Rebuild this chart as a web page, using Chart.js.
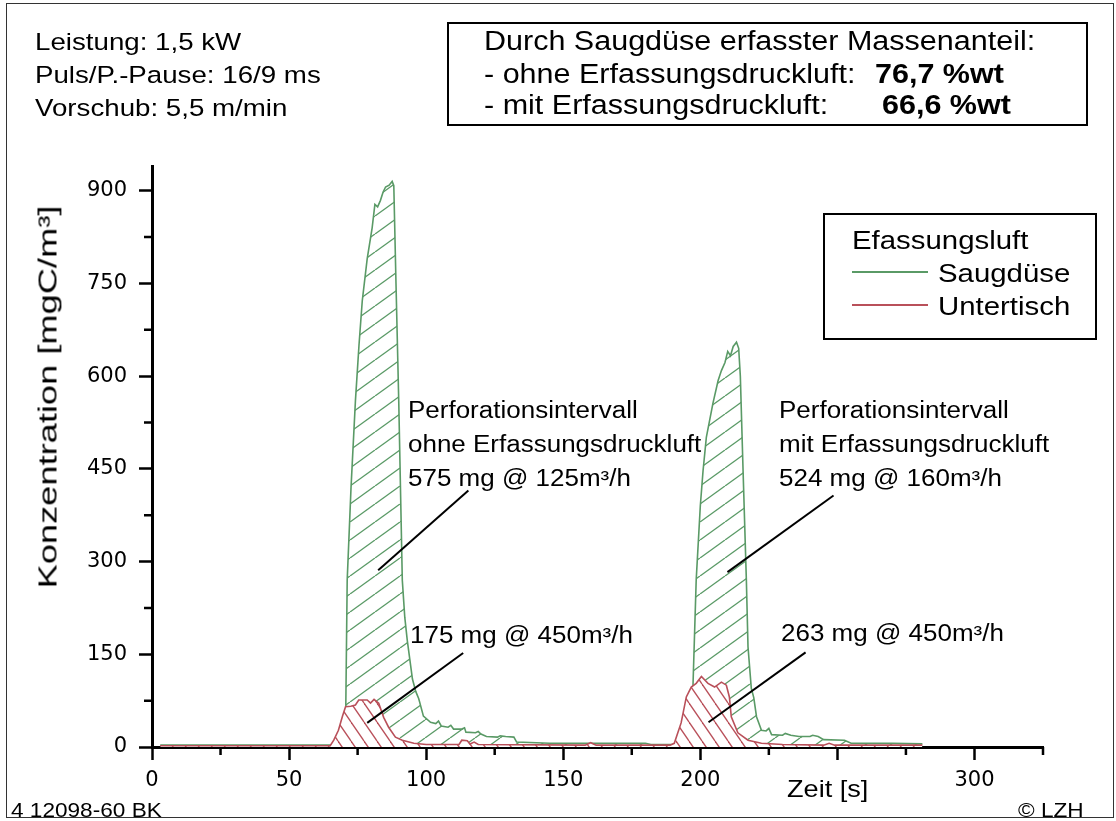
<!DOCTYPE html>
<html>
<head>
<meta charset="utf-8">
<script src="https://cdn.jsdelivr.net/npm/chart.js@4.4.1/dist/chart.umd.min.js"></script>
<style>
  body { margin: 0; background: #fff; }
  #wrap { position: relative; width: 1116px; height: 821px; overflow: hidden; font-family: "Liberation Sans", Arial, sans-serif; color: #000; }
  #chart { position: absolute; left: 0; top: 0; }
  .t { position: absolute; white-space: nowrap; line-height: 1; transform: scaleX(1.13); transform-origin: 0 0; }
  .box { position: absolute; border: 2px solid #000; box-sizing: border-box; }
  .frame { position: absolute; left: 6px; top: 3px; width: 1108px; height: 815px; border: 1.5px solid #333; box-sizing: border-box; }
  .sample { position: absolute; height: 0; border-top: 2px solid; }
</style>
</head>
<body>
<div id="wrap">
  <div class="frame"></div>
  <canvas id="chart" width="1116" height="821"></canvas>

  <div class="t" style="left:35px;top:30px;font-size:24.5px">Leistung: 1,5 kW</div>
  <div class="t" style="left:35px;top:63px;font-size:24.5px">Puls/P.-Pause: 16/9 ms</div>
  <div class="t" style="left:35px;top:96px;font-size:24.5px">Vorschub: 5,5 m/min</div>

  <div class="box" style="left:447px;top:22px;width:641px;height:104px"></div>
  <div class="t" style="left:484px;top:28px;font-size:27px">Durch Saugdüse erfasster Massenanteil:</div>
  <div class="t" style="left:484px;top:61px;font-size:27px">- ohne Erfassungsdruckluft:</div>
  <div class="t" style="left:875px;top:61px;font-size:27px;font-weight:bold">76,7 %wt</div>
  <div class="t" style="left:484px;top:92px;font-size:27px">- mit Erfassungsdruckluft:</div>
  <div class="t" style="left:882px;top:92px;font-size:27px;font-weight:bold">66,6 %wt</div>

  <div class="box" style="left:823px;top:213px;width:274px;height:127px"></div>
  <div class="t" style="left:852px;top:227px;font-size:26px">Efassungsluft</div>
  <div class="sample" style="left:852px;top:271px;width:76px;border-color:#5a9a66"></div>
  <div class="t" style="left:938px;top:260px;font-size:26px">Saugdüse</div>
  <div class="sample" style="left:852px;top:304px;width:76px;border-color:#b9505a"></div>
  <div class="t" style="left:938px;top:293px;font-size:26px">Untertisch</div>

  <div class="t" style="left:408px;top:399px;font-size:23px">Perforationsintervall</div>
  <div class="t" style="left:408px;top:433px;font-size:23px">ohne Erfassungsdruckluft</div>
  <div class="t" style="left:408px;top:467px;font-size:23px">575 mg @ 125m³/h</div>
  <div class="t" style="left:779px;top:399px;font-size:23px">Perforationsintervall</div>
  <div class="t" style="left:779px;top:433px;font-size:23px">mit Erfassungsdruckluft</div>
  <div class="t" style="left:779px;top:467px;font-size:23px">524 mg @ 160m³/h</div>
  <div class="t" style="left:410px;top:624px;font-size:23px">175 mg @ 450m³/h</div>
  <div class="t" style="left:781px;top:622px;font-size:23px">263 mg @ 450m³/h</div>

  <div class="t" style="left:48px;top:397px;font-size:25px;transform-origin:50% 50%;transform:translate(-50%,-50%) rotate(-90deg) scaleX(1.45)">Konzentration [mgC/m³]</div>
  <div class="t" style="left:787px;top:777px;font-size:24px">Zeit [s]</div>
  <div class="t" style="left:11px;top:800px;font-size:20px">4 12098-60 BK</div>
  <div class="t" style="left:1018px;top:800px;font-size:20px">© LZH</div>
</div>

<script>
// Saugdüse (green) and Untertisch (red) concentration curves, time in s
const saugZeit = [3, 69.8, 70.4, 70.7, 71.2, 72.6, 74.2, 75.5, 76.7, 78.5, 80.3, 81.3, 82.3, 83.3, 84.3, 85.2, 86.5, 87.6, 88.2, 89, 90, 91.3, 92.2, 93.1, 95, 96.2, 97.3, 99, 101.6, 103.5, 104.5, 105.5, 108, 109, 110, 113, 114, 114.5, 118, 119, 120, 122, 126, 127, 129, 132, 133, 145, 160, 180, 182, 196.3, 197.3, 198.5, 200, 201, 202.2, 204.6, 206.5, 207.7, 209, 210, 211, 212, 213.2, 214, 214.6, 215.6, 216.8, 217.4, 218.6, 219.5, 220.5, 222.3, 224, 225, 226, 230, 231, 233, 236, 240, 241, 243, 245, 252.6, 255, 270, 281];
const saugWerte = [3, 3, 30, 70, 270, 420, 560, 650, 722, 790, 840, 878, 874, 884, 898, 906, 909, 915, 908, 750, 560, 270, 210, 173, 110, 90, 78, 50, 40, 38, 42, 34, 32, 35, 29, 29, 31, 24, 23, 25, 21, 17, 16, 18, 17, 16, 8, 6, 6, 6, 4, 4, 95, 270, 390, 447, 501, 556, 593, 609, 622, 640, 633, 648, 655, 645, 600, 447, 270, 162, 95, 80, 49, 27, 26, 30, 20, 19, 22, 19, 17, 17, 19, 17, 12, 11, 6, 6, 5];

const tischZeit = [3, 65, 66.3, 68, 69.5, 70.6, 72.5, 74.2, 75.4, 78.5, 79.7, 81, 82.7, 84.5, 86.3, 88.8, 91.3, 95.5, 100, 112, 113, 115, 116, 117.5, 119, 158, 160, 162, 189, 190.5, 193, 194.9, 196.7, 198.5, 200.4, 202.8, 205.2, 207.7, 209.5, 210.6, 211.3, 213.7, 217.4, 222.3, 230, 245, 247, 249, 281];
const tischWerte = [2, 2, 11, 27, 50, 65, 66, 68, 76, 76, 71, 77, 71, 48, 32, 16, 11, 6, 4, 4, 11, 10, 5, 8, 4, 3, 7, 3, 3, 6, 39, 81, 97, 103, 114, 103, 97, 105, 100, 81, 49, 23, 11, 6, 4, 3, 6, 3, 3];

const xTicks = [0, 50, 100, 150, 200, 250, 300];
const xMinor = [25, 75, 125, 175, 225, 275, 325];
const yTicks = [0, 150, 300, 450, 600, 750, 900];
const yMinor = [75, 225, 375, 525, 675, 825];

// leader lines from the notes to the areas: [x1, y1, x2, y2] in data units
const leaderLines = [
  [115.4, 415, 82.5, 286],
  [248.6, 407, 209.9, 283],
  [113.5, 152, 78.5, 39],
  [238.4, 153, 203, 40]
];

const gruen = '#5a9a66';
const rot = '#b9505a';

function hatch(color, w, h, rising, background) {
  const tile = document.createElement('canvas');
  tile.width = w;
  tile.height = h;
  const c = tile.getContext('2d');
  if (background) {
    c.fillStyle = background;
    c.fillRect(0, 0, w, h);
  }
  c.strokeStyle = color;
  c.lineWidth = 1.3;
  for (let k = -1; k <= 1; k++) {
    c.beginPath();
    if (rising) {
      c.moveTo(k * w, h);
      c.lineTo((k + 1) * w, 0);
    } else {
      c.moveTo(k * w, 0);
      c.lineTo((k + 1) * w, h);
    }
    c.stroke();
  }
  return c.createPattern(tile, 'repeat');
}

const toPoints = (xs, ys) => xs.map((x, i) => ({ x: x, y: ys[i] }));

const minorTicks = {
  id: 'minorTicks',
  afterDraw(chart) {
    const { ctx, scales: { x, y } } = chart;
    ctx.save();
    ctx.strokeStyle = '#000';
    ctx.lineWidth = 2.5;
    ctx.beginPath();
    xMinor.forEach(v => {
      const px = x.getPixelForValue(v);
      ctx.moveTo(px, y.bottom);
      ctx.lineTo(px, y.bottom + 8);
    });
    yMinor.forEach(v => {
      const py = y.getPixelForValue(v);
      ctx.moveTo(x.left - 8, py);
      ctx.lineTo(x.left, py);
    });
    ctx.stroke();
    ctx.restore();
  }
};

const leaders = {
  id: 'leaders',
  afterDatasetsDraw(chart) {
    const { ctx, scales: { x, y } } = chart;
    ctx.save();
    ctx.strokeStyle = '#000';
    ctx.lineWidth = 2;
    leaderLines.forEach(l => {
      ctx.beginPath();
      ctx.moveTo(x.getPixelForValue(l[0]), y.getPixelForValue(l[1]));
      ctx.lineTo(x.getPixelForValue(l[2]), y.getPixelForValue(l[3]));
      ctx.stroke();
    });
    ctx.restore();
  }
};

Chart.defaults.font.family = '"DejaVu Sans", sans-serif';
Chart.defaults.font.size = 21;
Chart.defaults.color = '#000';

const ctx = document.getElementById('chart');

new Chart(ctx, {
  type: 'line',
  data: {
    datasets: [
      {
        label: 'Untertisch',
        data: toPoints(tischZeit, tischWerte),
        borderColor: rot,
        borderWidth: 1.6,
        backgroundColor: hatch(rot, 13, 19, false, '#fff'),
        fill: 'origin',
        pointRadius: 0,
        tension: 0
      },
      {
        label: 'Saugdüse',
        data: toPoints(saugZeit, saugWerte),
        borderColor: gruen,
        borderWidth: 1.6,
        backgroundColor: hatch(gruen, 25, 18, true, null),
        fill: 'origin',
        pointRadius: 0,
        tension: 0
      }
    ]
  },
  options: {
    responsive: false,
    animation: false,
    layout: { padding: { left: 0, right: 73, top: 166, bottom: 0 } },
    plugins: {
      legend: { display: false },
      tooltip: { enabled: false }
    },
    scales: {
      x: {
        type: 'linear',
        min: 0,
        max: 325,
        afterBuildTicks: s => { s.ticks = xTicks.map(v => ({ value: v })); },
        afterFit: s => { s.height = 74; },
        ticks: {
          padding: 8,
          maxRotation: 0,
          autoSkip: false,
          callback: v => (v === 250 ? '' : v)
        },
        grid: { drawOnChartArea: false, tickLength: 13, tickWidth: 2.5, tickColor: '#000' },
        border: { color: '#000', width: 3 }
      },
      y: {
        type: 'linear',
        min: 0,
        max: 940,
        afterBuildTicks: s => { s.ticks = yTicks.map(v => ({ value: v })); },
        afterFit: s => { s.width = 152; },
        ticks: { padding: 12 },
        grid: { drawOnChartArea: false, tickLength: 13, tickWidth: 2.5, tickColor: '#000' },
        border: { color: '#000', width: 3 }
      }
    }
  },
  plugins: [minorTicks, leaders]
});
</script>
</body>
</html>
